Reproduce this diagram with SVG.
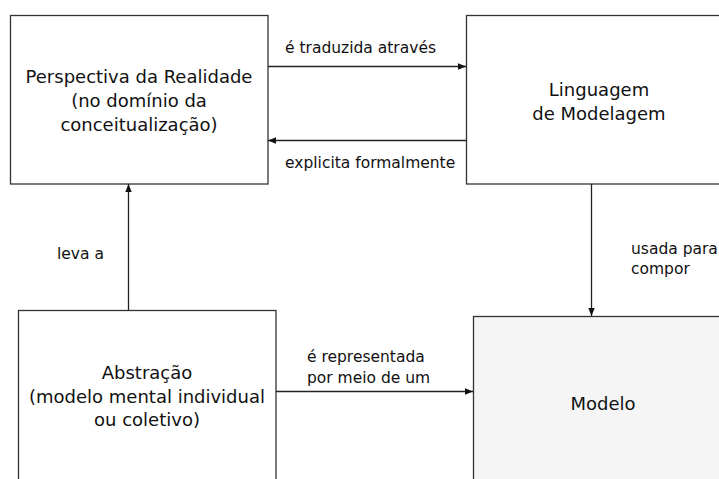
<svg xmlns="http://www.w3.org/2000/svg" width="719" height="479" viewBox="0 0 719 479">
<style>
.box{fill:#ffffff;stroke:#333333;stroke-width:1.3}
.gray{fill:#f5f5f5}
.t{font-family:"DejaVu Sans","Verdana",sans-serif;font-size:18px;fill:#111111;text-anchor:middle}
.l{font-family:"DejaVu Sans","Verdana",sans-serif;font-size:15.5px;fill:#111111}
.c{stroke:#222222;stroke-width:1.3;fill:none;marker-end:url(#ah)}
</style>
<defs>
<marker id="ah" viewBox="0 0 10 10" refX="10" refY="5" markerWidth="8" markerHeight="8" markerUnits="userSpaceOnUse" orient="auto">
<path d="M0,1 L10,5 L0,9 Z" fill="#111111"/>
</marker>
</defs>
<rect width="719" height="479" fill="#ffffff"/>
<g id="perspectiva">
<rect class="box" x="10.5" y="15.5" width="257.5" height="168.5"/>
<text class="t" x="139" y="83">Perspectiva da Realidade</text>
<text class="t" x="139" y="107">(no domínio da</text>
<text class="t" x="139" y="131">conceitualização)</text>
</g>
<g id="linguagem">
<rect class="box" x="466.5" y="15.5" width="260" height="168.5"/>
<text class="t" x="599" y="96">Linguagem</text>
<text class="t" x="599" y="120">de Modelagem</text>
</g>
<g id="abstracao">
<rect class="box" x="18.5" y="310.5" width="257.5" height="180"/>
<text class="t" x="147" y="379">Abstração</text>
<text class="t" x="147" y="403">(modelo mental individual</text>
<text class="t" x="147" y="426">ou coletivo)</text>
</g>
<g id="modelo">
<rect class="box gray" x="473.5" y="316.5" width="260" height="180"/>
<text class="t" x="603" y="410">Modelo</text>
</g>
<g id="connectors">
<line class="c" x1="268" y1="66.5" x2="466" y2="66.5"/>
<text class="l" x="285" y="53">é traduzida através</text>
<line class="c" x1="466" y1="140.5" x2="268" y2="140.5"/>
<text class="l" x="285" y="168">explicita formalmente</text>
<line class="c" x1="591.5" y1="184" x2="591.5" y2="316"/>
<text class="l" x="631" y="254">usada para</text>
<text class="l" x="631" y="274">compor</text>
<line class="c" x1="128.5" y1="310" x2="128.5" y2="184"/>
<text class="l" x="57" y="259">leva a</text>
<line class="c" x1="276" y1="391.5" x2="473" y2="391.5"/>
<text class="l" x="307" y="362">é representada</text>
<text class="l" x="307" y="383">por meio de um</text>
</g>
</svg>
